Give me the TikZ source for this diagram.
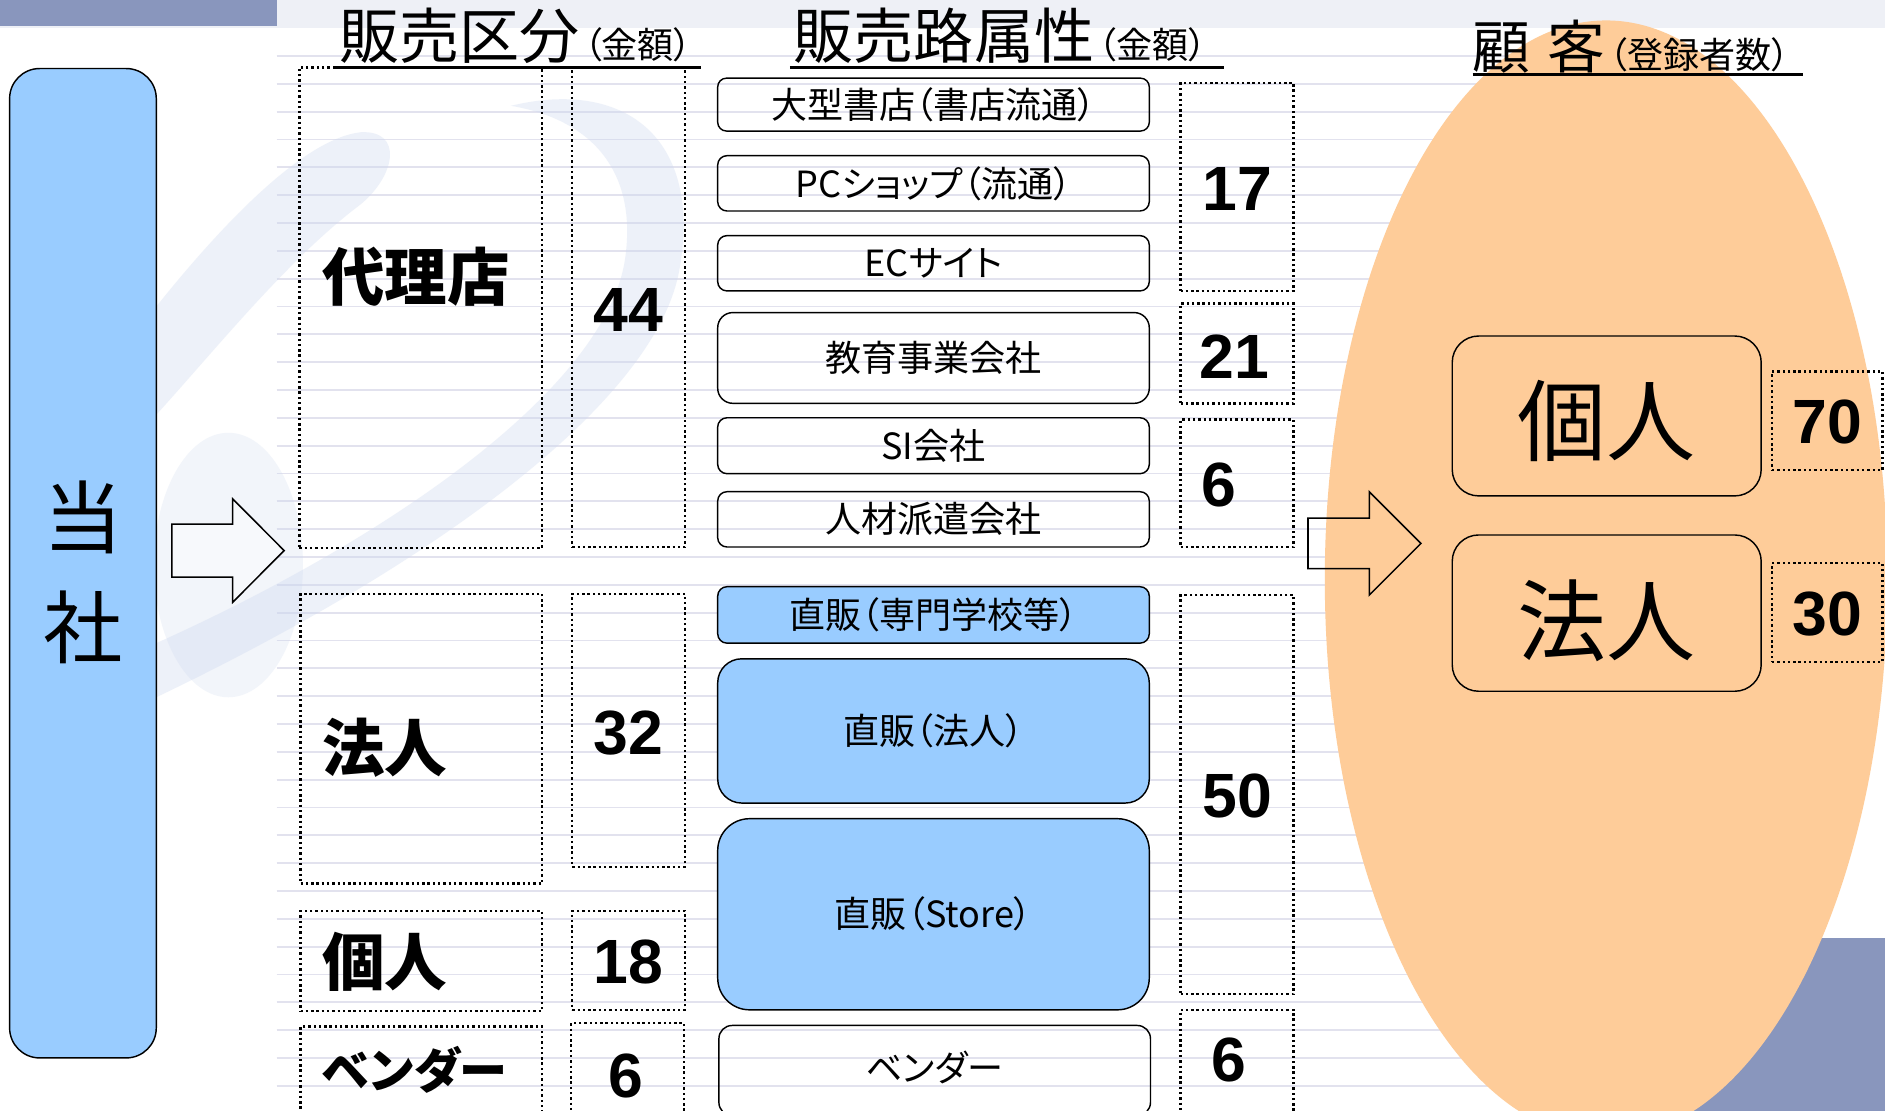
\documentclass[tikz,border=0pt]{standalone}
\usepackage{fontspec}
\setmainfont{Noto Sans CJK JP}[RawFeature=+palt]
\newfontfamily\numfont{Liberation Sans}
\definecolor{bluefill}{RGB}{153,204,255}
\definecolor{peach}{RGB}{254,204,153}
\definecolor{darkbar}{RGB}{137,150,189}
\definecolor{topband}{RGB}{238,240,246}
\definecolor{bgline}{RGB}{226,226,238}
\definecolor{swoosh}{RGB}{205,216,238}
\tikzset{
  dbox/.style={draw=black, line width=2pt, dash pattern=on 2pt off 2.4pt, inner sep=0pt},
  rbox/.style={draw=black, line width=1.2pt, rounded corners=#1, inner sep=0pt},
  mtext/.style={font=\fontsize{30pt}{30pt}\selectfont},
  ltext/.style={font=\bfseries\fontsize{52pt}{52pt}\selectfont, anchor=west, inner sep=0pt},
  numtext/.style={font=\numfont\bfseries\fontsize{52pt}{52pt}\selectfont, inner sep=0pt},
  bigtext/.style={font=\fontsize{74pt}{74pt}\selectfont, inner sep=0pt},
  blockarrow/.style={draw=black, line width=1.3pt, line join=miter},
  uline/.style={line width=2.5pt},
  htext/.style={anchor=base west, inner sep=0pt}
}
\begin{document}
\begin{tikzpicture}[x=1pt,y=-1pt]
\useasboundingbox (0,0) rectangle (1568,924);
\clip (0,0) rectangle (1568,924);
% background
\fill[white] (0,0) rectangle (1568,924);
\fill[topband] (0,0) rectangle (1568,23);
\fill[darkbar] (0,0) rectangle (230,22);
\fill[darkbar] (1380,780) rectangle (1568,924);
\foreach \k in {0,...,38} {
  \draw[bgline, line width=1.5pt] (230,46.6+23.15*\k) -- (1340,46.6+23.15*\k);
}
% swoosh (faint decoration)
\fill[swoosh, opacity=0.35] (130,255) .. controls (190,180) and (255,115) .. (300,110) .. controls (335,108) and (330,145) .. (300,170) .. controls (240,215) and (180,290) .. (130,345) -- cycle;
\fill[swoosh, opacity=0.35] (425,88) .. controls (520,65) and (585,115) .. (565,225) .. controls (545,335) and (360,470) .. (130,580) -- (130,535) .. controls (330,445) and (505,320) .. (520,215) .. controls (530,145) and (495,100) .. (425,88) -- cycle;
\fill[swoosh, opacity=0.25] (190,470) ellipse [x radius=62, y radius=110];
% customer ellipse
\fill[peach] (1336,482) ellipse [x radius=234, y radius=465];

% headers
\node[htext] (h1a) at (282,49) {\fontsize{50pt}{50pt}\selectfont 販売区分};
\node[htext] (h1b) at ([xshift=3pt]h1a.base east) {\fontsize{30pt}{30pt}\selectfont （金額）};
\node[htext] (h2a) at (660,49) {\fontsize{50pt}{50pt}\selectfont 販売路属性};
\node[htext] (h2b) at ([xshift=3pt]h2a.base east) {\fontsize{30pt}{30pt}\selectfont （金額）};
\node[htext] (h3a) at (1225,57) {\fontsize{48pt}{48pt}\selectfont 顧\hspace{14pt}客};
\node[htext] (h3b) at ([xshift=3pt]h3a.base east) {\fontsize{30pt}{30pt}\selectfont （登録者数）};
\draw[uline] (278,56) -- (583,56);
\draw[uline] (657,56) -- (1018,56);
\draw[uline] (1225,62) -- (1500,62);

% company box
\node[rbox=25pt, fill=bluefill, minimum width=122pt, minimum height=823pt] (co) at (69,468.5) {};
\node[inner sep=0pt, font=\fontsize{66pt}{66pt}\selectfont] (co1) at (69,430) {当};
\node[inner sep=0pt, font=\fontsize{66pt}{66pt}\selectfont] (co2) at (69,522) {社};

% arrows
\draw[blockarrow, fill=white, fill opacity=0.4] (143,436) -- (193.5,436) -- (193.5,415) -- (236.4,458) -- (193.5,501) -- (193.5,480) -- (143,480) -- cycle;
\draw[blockarrow] (1088,431) -- (1139,431) -- (1139,409) -- (1182,452) -- (1139,495) -- (1139,473) -- (1088,473) -- cycle;

% sales category column
\node[dbox, minimum width=202pt, minimum height=400pt] (d1) at (350,256) {};
\node[dbox, minimum width=94pt, minimum height=399pt] (d2) at (523,255.5) {};
\node[dbox, minimum width=201pt, minimum height=241pt] (d3) at (350.5,614.5) {};
\node[dbox, minimum width=94pt, minimum height=227pt] (d4) at (523,607.5) {};
\node[dbox, minimum width=201pt, minimum height=83pt] (d5) at (350.5,799.5) {};
\node[dbox, minimum width=94pt, minimum height=82pt] (d6) at (523,799) {};
\node[dbox, minimum width=201pt, minimum height=86pt] (d7) at (350.5,897) {};
\node[dbox, minimum width=94pt, minimum height=89pt] (d8) at (522,895.5) {};

\node[ltext] (t1) at (268,230) {代理店};
\node[ltext] (t2) at (268,622) {法人};
\node[ltext] (t3) at (268,800) {個人};
\node[ltext, font=\bfseries\fontsize{40pt}{40pt}\selectfont] (t4) at (268,890) {ベンダー};
\node[numtext] (n1) at (523,258) {44};
\node[numtext] (n2) at (523,610) {32};
\node[numtext] (n3) at (523,800) {18};
\node[numtext] (n4) at (521,895) {6};

% channel column
\node[rbox=7.3pt, mtext, minimum width=359pt, minimum height=44pt] (m1) at (776.5,87) {大型書店（書店流通）};
\node[rbox=7.7pt, mtext, minimum width=359pt, minimum height=46pt] (m2) at (776.5,152.5) {PCショップ（流通）};
\node[rbox=7.7pt, mtext, minimum width=359pt, minimum height=46pt] (m3) at (776.5,219) {ECサイト};
\node[rbox=12.6pt, mtext, minimum width=359pt, minimum height=75.5pt] (m4) at (776.5,297.75) {教育事業会社};
\node[rbox=7.7pt, mtext, minimum width=359pt, minimum height=46.5pt] (m5) at (776.5,370.75) {SI会社};
\node[rbox=7.7pt, mtext, minimum width=359pt, minimum height=46pt] (m6) at (776.5,432) {人材派遣会社};
\node[rbox=7.8pt, mtext, fill=bluefill, minimum width=359pt, minimum height=47pt] (m7) at (776.5,511.5) {直販（専門学校等）};
\node[rbox=20pt, mtext, fill=bluefill, minimum width=359pt, minimum height=120pt] (m8) at (776.5,608) {直販（法人）};
\node[rbox=26.5pt, mtext, fill=bluefill, minimum width=359pt, minimum height=159pt] (m9) at (776.5,760.5) {直販（Store）};
\node[rbox=11pt, minimum width=359pt, minimum height=75pt] (m10) at (777.5,890.5) {};
\node[mtext, inner sep=0pt] (m10t) at (777.5,888) {ベンダー};

\node[dbox, minimum width=94pt, minimum height=173pt] (d9) at (1029,155.5) {};
\node[dbox, minimum width=94pt, minimum height=83pt] (d10) at (1029,294) {};
\node[dbox, minimum width=94pt, minimum height=106pt] (d11) at (1029,402) {};
\node[dbox, minimum width=94pt, minimum height=332pt] (d12) at (1029,661) {};
\node[dbox, minimum width=94pt, minimum height=100pt] (d13) at (1029,890) {};
\node[numtext] (n5) at (1029,157) {17};
\node[numtext] (n6) at (1027,297) {21};
\node[numtext] (n7) at (1014,403) {6};
\node[numtext] (n8) at (1029,662) {50};
\node[numtext] (n9) at (1022,882) {6};

% customers
\node[rbox=22pt, minimum width=257pt, minimum height=133pt] (r1) at (1336.5,346) {};
\node[rbox=22pt, minimum width=257pt, minimum height=130pt] (r2) at (1336.5,510) {};
\node[bigtext] (r1t) at (1336,350) {個人};
\node[bigtext] (r2t) at (1336,516) {法人};
\node[dbox, minimum width=92pt, minimum height=82pt] (d14) at (1520,350) {};
\node[dbox, minimum width=92pt, minimum height=82pt] (d15) at (1520,509.5) {};
\node[numtext] (n10) at (1520,351) {70};
\node[numtext] (n11) at (1520,511) {30};
\end{tikzpicture}
\end{document}
